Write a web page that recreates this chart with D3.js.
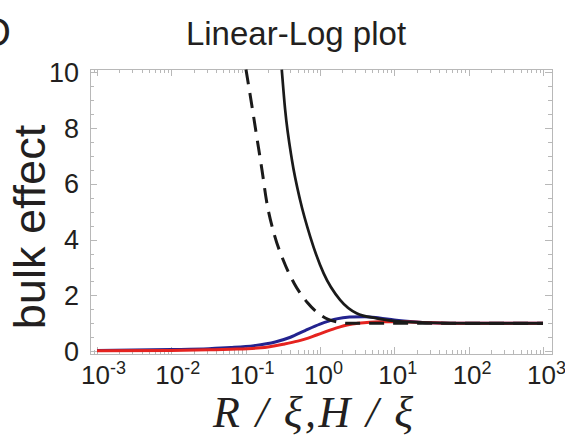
<!DOCTYPE html>
<html>
<head>
<meta charset="utf-8">
<script src="https://cdn.jsdelivr.net/npm/d3@7"></script>
<style>
  body { margin: 0; background: #fff; }
  svg { display: block; }
  text { font-family: "Liberation Sans", Arial, sans-serif; fill: #231f20; }
</style>
</head>
<body>
<svg width="565" height="436"></svg>
<script>
let width = 565,
    height = 436,
    margin = ({ top: 69, right: 13, bottom: 82, left: 90 }); // plot frame

// values (x = R/xi or H/xi)
const blueX = [0.001, 0.01, 0.032, 0.063, 0.13, 0.25, 0.4, 0.63, 1.0, 1.6, 2.5, 4.0, 6.3, 10, 20, 30, 100, 1000];
const blueY = [0.03, 0.06, 0.09, 0.13, 0.20, 0.33, 0.50, 0.74, 0.97, 1.15, 1.23, 1.24, 1.19, 1.12, 1.05, 1.02, 1.0, 1.0];

const redX = [0.001, 0.01, 0.032, 0.063, 0.16, 0.32, 0.5, 0.9, 1.6, 2.5, 3.2, 6.3, 13, 30, 100, 1000];
const redY = [0.02, 0.03, 0.05, 0.07, 0.12, 0.25, 0.36, 0.58, 0.82, 0.96, 1.0, 1.06, 1.06, 1.02, 1.0, 1.0];

const solidX = [0.306, 0.34, 0.42, 0.54, 0.74, 1.12, 1.86, 3.1, 5.8, 13, 32, 100, 1000];
const solidY = [10.1, 8.65, 6.85, 5.42, 4.10, 2.79, 1.84, 1.36, 1.18, 1.06, 1.02, 1.0, 1.0];

const dashX = [0.101, 0.122, 0.141, 0.166, 0.19, 0.24, 0.32, 0.45, 0.68, 1.29, 1.78, 2.3, 1000];
const dashY = [10.1, 8.76, 7.69, 6.49, 5.42, 4.23, 3.27, 2.43, 1.74, 1.14, 1.04, 1.0, 1.0];

const xTickExp = [-3, -2, -1, 0, 1, 2, 3];
const yTicks = [0, 2, 4, 6, 8, 10];

const svg = d3.select("svg");

const xScale = d3.scaleLog()
  .domain([Math.pow(10, -3.094), Math.pow(10, 3.121)])
  .range([margin.left, width - margin.right]);

const yScale = d3.scaleLinear()
  .domain([-0.1, 10.12])
  .range([height - margin.bottom, margin.top]);

const x0 = margin.left, x1 = width - margin.right;
const y0 = height - margin.bottom, y1 = margin.top;

svg.append("defs").append("clipPath").attr("id", "plot")
  .append("rect").attr("x", x0).attr("y", y1).attr("width", x1 - x0).attr("height", y0 - y1);

// ticks (inward, light grey) on all four sides
const tickColor = "#b8b8b8";
const ticks = svg.append("g").attr("stroke", tickColor).attr("stroke-width", 1);

let minorX = [];
xTickExp.forEach(e => {
  for (let k = 1; k < 10; k++) minorX.push(k * Math.pow(10, e));
});
minorX.push(Math.pow(10, -4) * 9);
minorX = minorX.filter(v => xScale(v) >= x0 && xScale(v) <= x1);

minorX.forEach(v => {
  const major = Math.abs(Math.log10(v) - Math.round(Math.log10(v))) < 1e-9;
  const len = major ? 7 : 4;
  const px = Math.round(xScale(v)) + 0.5;
  ticks.append("line").attr("x1", px).attr("x2", px).attr("y1", y0).attr("y2", y0 - len);
  ticks.append("line").attr("x1", px).attr("x2", px).attr("y1", y1).attr("y2", y1 + len);
});

d3.range(0, 20.5, 1).map(i => i * 0.5).forEach(v => {
  const major = v % 2 === 0;
  const len = major ? 7 : 4;
  const py = Math.round(yScale(v)) + 0.5;
  ticks.append("line").attr("x1", x0).attr("x2", x0 + len).attr("y1", py).attr("y2", py);
  ticks.append("line").attr("x1", x1).attr("x2", x1 - len).attr("y1", py).attr("y2", py);
});

// frame
svg.append("rect")
  .attr("x", x0 + 0.5).attr("y", y1 + 0.5)
  .attr("width", x1 - x0).attr("height", y0 - y1)
  .attr("fill", "none").attr("stroke", tickColor);

// y tick labels
svg.append("g").selectAll("text").data(yTicks).join("text")
  .attr("x", 79)
  .attr("y", d => yScale(d) + 9.5)
  .attr("text-anchor", "end")
  .attr("font-size", 27)
  .text(d => d);

// x tick labels 10^n
const xl = svg.append("g").selectAll("text").data(xTickExp).join("text")
  .attr("x", d => xScale(Math.pow(10, d)) - 16)
  .attr("y", 384)
  .attr("font-size", 26);
xl.append("tspan").text("10");
xl.append("tspan").attr("font-size", 18).attr("dy", -10).text(d => d < 0 ? "-" + (-d) : d);

// curves
const line = d3.line()
  .x(d => xScale(d[0]))
  .y(d => yScale(d[1]))
  .curve(d3.curveMonotoneX);

const curves = svg.append("g").attr("clip-path", "url(#plot)").attr("fill", "none");

curves.append("path").datum(d3.zip(blueX, blueY))
  .attr("d", line).attr("stroke", "#23238f").attr("stroke-width", 3);
curves.append("path").datum(d3.zip(redX, redY))
  .attr("d", line).attr("stroke", "#e5231f").attr("stroke-width", 3);
curves.append("path").datum(d3.zip(solidX, solidY))
  .attr("d", line).attr("stroke", "#1a1a1a").attr("stroke-width", 2.7);
curves.append("path").datum(d3.zip(dashX, dashY))
  .attr("d", line).attr("stroke", "#1a1a1a").attr("stroke-width", 3)
  .attr("stroke-dasharray", "15,9");

// title, panel letter, axis titles
svg.append("text")
  .attr("x", 296).attr("y", 45)
  .attr("text-anchor", "middle")
  .attr("font-size", 33)
  .text("Linear-Log plot");

svg.append("text")
  .attr("x", 11).attr("y", 46)
  .attr("text-anchor", "end")
  .attr("font-size", 40)
  .text("D");

svg.append("text")
  .attr("transform", "translate(45,227) rotate(-90)")
  .attr("text-anchor", "middle")
  .attr("font-size", 45)
  .text("bulk effect");

svg.append("text")
  .attr("x", 313).attr("y", 427)
  .attr("text-anchor", "middle")
  .attr("font-size", 44)
  .attr("font-style", "italic")
  .style("font-family", "'Liberation Serif', 'Times New Roman', serif")
  .attr("textLength", 200)
  .text("R / ξ,H / ξ");
</script>
</body>
</html>
